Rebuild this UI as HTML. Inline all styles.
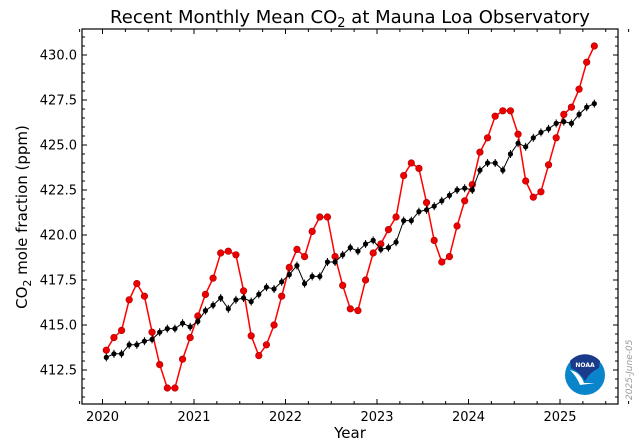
<!DOCTYPE html>
<html><head><meta charset="utf-8"><style>
body{margin:0;background:#fff;}
svg{display:block;font-family:"DejaVu Sans","Liberation Sans",sans-serif;}
</style></head><body>
<svg id="s" width="639" height="445" viewBox="0 0 639 445" xmlns="http://www.w3.org/2000/svg">
<text x="350" y="23" font-size="18" text-anchor="middle">Recent Monthly Mean CO<tspan font-size="13" dy="4">2</tspan><tspan dy="-4"> at Mauna Loa Observatory</tspan></text>
<text x="350" y="438" font-size="15" text-anchor="middle">Year</text>
<text transform="translate(27,217) rotate(-90)" font-size="15" text-anchor="middle">CO<tspan font-size="11" dy="4">2</tspan><tspan dy="-4"> mole fraction (ppm)</tspan></text>
<text transform="translate(632,400) rotate(-90)" font-size="9" fill="#999" font-style="italic">2025-June-05</text>
<g id="g"></g>
<rect x="82" y="29" width="536" height="375" fill="none" stroke="#000" stroke-width="1.2"/>
<circle cx="585" cy="375" r="20" fill="#0a85cc"/>
<path d="M570,361 A20,20 0 0 1 600,361 L599,368 Q590,372 585,381 Q580,372 571,368 Z" fill="#1a3a8a"/>
<path d="M570,370 Q580,372 584,383 L595,383 Q588,384 580,385 Q577,377 570,370 Z" fill="#fff"/>
<text x="585" y="367" font-size="6" fill="#fff" text-anchor="middle" font-weight="bold">NOAA</text>
</svg>
<script>
var red=[413.6,414.3,414.7,416.4,417.3,416.6,414.6,412.8,411.5,411.5,413.1,414.3,415.5,416.7,417.6,419.0,419.1,418.9,416.9,414.4,413.3,413.9,415.0,416.6,418.2,419.2,418.8,420.2,421.0,421.0,418.8,417.2,415.9,415.8,417.5,419.0,419.5,420.3,421.0,423.3,424.0,423.7,421.8,419.7,418.5,418.8,420.5,421.9,422.8,424.6,425.4,426.6,426.9,426.9,425.6,423.0,422.1,422.4,423.9,425.4,426.7,427.1,428.1,429.6,430.5];
var blk=[413.2,413.4,413.4,413.9,413.9,414.1,414.2,414.6,414.8,414.8,415.1,414.9,415.2,415.8,416.1,416.5,415.9,416.4,416.5,416.3,416.7,417.1,417.0,417.4,417.8,418.3,417.3,417.7,417.7,418.5,418.5,418.9,419.3,419.1,419.5,419.7,419.2,419.3,419.6,420.8,420.8,421.3,421.4,421.6,421.9,422.2,422.5,422.6,422.5,423.6,424.0,424.0,423.6,424.5,425.1,424.9,425.4,425.7,425.9,426.2,426.3,426.2,426.7,427.1,427.3];
function X(t){return 102.5+(t-2020)*91.5}
function Y(v){return 55+(430-v)*18}
var h='';
for(var t=2019.75;t<2025.9;t+=0.25){var x=X(t),L=Math.abs(t-Math.round(t))<1e-6?5:3;
h+='<line x1="'+x+'" y1="404" x2="'+x+'" y2="'+(404-L)+'" stroke="#000"/><line x1="'+x+'" y1="29" x2="'+x+'" y2="'+(29+L)+'" stroke="#000"/>';
if(L==5)h+='<text x="'+x+'" y="421" font-size="13" text-anchor="middle">'+Math.round(t)+'</text>';}
for(var v=411;v<=431;v+=0.5){var y=Y(v);if(y<29||y>404)continue;var maj=Math.abs(v/2.5-Math.round(v/2.5))<1e-6,L=maj?5:3;
h+='<line x1="82" y1="'+y+'" x2="'+(82+L)+'" y2="'+y+'" stroke="#000"/><line x1="618" y1="'+y+'" x2="'+(618-L)+'" y2="'+y+'" stroke="#000"/>';
if(maj)h+='<text x="77" y="'+(y+4.5)+'" font-size="13" text-anchor="end">'+v.toFixed(1)+'</text>';}
function pts(a){return a.map(function(v,i){return X(2020+(i+0.5)/12).toFixed(1)+','+Y(v).toFixed(1)}).join(' ')}
h+='<polyline points="'+pts(red)+'" fill="none" stroke="#f00" stroke-width="1.5"/>';
red.forEach(function(v,i){h+='<circle cx="'+X(2020+(i+0.5)/12)+'" cy="'+Y(v)+'" r="3.3" fill="#e00" stroke="#a00" stroke-width="0.6"/>'});
h+='<polyline points="'+pts(blk)+'" fill="none" stroke="#000" stroke-width="1"/>';
blk.forEach(function(v,i){var x=X(2020+(i+0.5)/12),y=Y(v);h+='<line x1="'+x+'" y1="'+(y-4)+'" x2="'+x+'" y2="'+(y+4)+'" stroke="#000"/><circle cx="'+x+'" cy="'+y+'" r="2.6" fill="#000"/>'});
document.getElementById('g').innerHTML=h;
</script>
</body></html>
